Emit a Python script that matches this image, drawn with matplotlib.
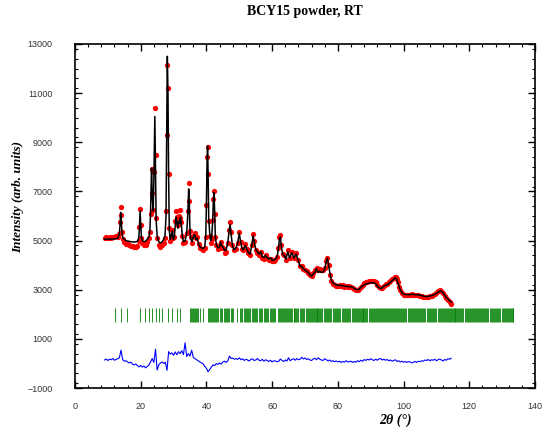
import numpy as np
import matplotlib
matplotlib.use('Agg')
import matplotlib.pyplot as plt
from matplotlib.ticker import MultipleLocator

# observed / calculated profile, shared 2theta nodes
two_theta = [
    9.0, 9.5, 10.0, 10.5, 11.0, 11.5, 12.0, 12.5, 13.0, 13.4,
    13.7, 13.9, 14.1, 14.3, 14.6, 15.0, 15.5, 16.0, 16.5, 17.0,
    17.5, 18.0, 18.5, 19.0, 19.4, 19.6, 19.8, 20.0, 20.2, 20.5,
    21.0, 21.5, 22.0, 22.5, 22.8, 23.0, 23.3, 23.5, 23.8, 24.0,
    24.3, 24.5, 24.7, 25.0, 25.5, 26.0, 26.5, 27.0, 27.4, 27.7,
    27.9, 28.1, 28.3, 28.5, 28.7, 29.0, 29.3, 29.6, 29.9, 30.2,
    30.5, 30.8, 31.0, 31.3, 31.6, 31.9, 32.1, 32.4, 32.7, 33.0,
    33.5, 34.0, 34.3, 34.6, 34.8, 35.0, 35.3, 35.6, 36.0, 36.4,
    36.8, 37.2, 37.6, 38.0, 38.5, 39.0, 39.5, 39.8, 40.0, 40.2,
    40.35, 40.5, 40.7, 41.0, 41.3, 41.6, 41.9, 42.1, 42.3, 42.5,
    42.7, 43.0, 43.5, 44.0, 44.3, 44.6, 45.0, 45.5, 46.0, 46.5,
    46.9, 47.2, 47.5, 47.9, 48.4, 49.0, 49.5, 50.0, 50.4, 50.8,
    51.2, 51.8, 52.3, 52.8, 53.3, 53.8, 54.2, 54.5, 55.0, 55.5,
    56.0, 56.5, 57.0, 57.5, 58.0, 58.5, 59.0, 59.5, 60.0, 60.5,
    61.0, 61.5, 61.9, 62.2, 62.5, 62.8, 63.2, 63.6, 64.2, 64.8,
    65.3, 66.0, 66.6, 67.3, 67.9, 68.5, 69.0, 69.5, 70.0, 70.5,
    71.0, 71.5, 72.0, 72.5, 73.0, 73.5, 74.0, 74.5, 75.0, 75.5,
    76.0, 76.4, 76.8, 77.2, 77.6, 78.0, 78.5, 79.0, 79.5, 80.0,
    80.5, 81.0, 81.5, 82.0, 82.5, 83.0, 83.5, 84.0, 84.5, 85.0,
    85.5, 86.0, 86.5, 87.0, 87.5, 88.0, 88.5, 89.0, 89.5, 90.0,
    90.5, 91.0, 91.5, 92.0, 92.5, 93.0, 93.5, 94.0, 94.5, 95.0,
    95.5, 96.0, 96.5, 97.0, 97.3, 97.6, 97.9, 98.2, 98.6, 99.0,
    99.5, 100.0, 100.5, 101.0, 101.5, 102.0, 102.5, 103.0, 103.5, 104.0,
    104.5, 105.0, 105.5, 106.0, 106.5, 107.0, 107.5, 108.0, 108.5, 109.0,
    109.5, 110.0, 110.5, 110.8, 111.2, 111.5, 112.0, 112.5, 113.0, 113.5,
    114.0, 114.5,
]

y_calc = [
    5050, 5050, 5060, 5060, 5060, 5060, 5070, 5080, 5100, 5200,
    5600, 6150, 5800, 5300, 5100, 5050, 5000, 4980, 4970, 4950,
    4950, 4940, 4950, 4970, 5100, 5500, 6200, 5700, 5150, 5000,
    4950, 4980, 5050, 5150, 5400, 6200, 7950, 6800, 6200, 7500,
    10050, 8000, 5800, 5200, 4950, 4900, 4950, 5050, 5200, 6000,
    9000, 12500, 11000, 7500, 5400, 5050, 5200, 5400, 5050, 5100,
    5600, 5950, 5750, 5500, 5800, 5700, 5950, 5600, 5150, 4950,
    4980, 5300, 6000, 7100, 6500, 5300, 5050, 4950, 5150, 5250,
    5050, 5100, 4850, 4750, 4700, 4680, 4750, 5200, 6500, 8300,
    8850, 7800, 5900, 5300, 5000, 5100, 5800, 6600, 6950, 6200,
    5200, 4850, 4700, 4750, 4950, 4800, 4750, 4600, 4620, 4900,
    5400, 5650, 5300, 4800, 4620, 4700, 4900, 5300, 4950, 4700,
    4620, 4800, 4650, 4500, 4450, 4800, 5200, 5000, 4650, 4550,
    4450, 4550, 4350, 4300, 4400, 4300, 4250, 4300, 4200, 4200,
    4250, 4350, 4650, 5050, 5150, 4750, 4450, 4400, 4250, 4550,
    4300, 4500, 4300, 4450, 4200, 3950, 3950, 3850, 3800, 3750,
    3700, 3600, 3550, 3650, 3700, 3850, 3700, 3750, 3700, 3720,
    3850, 4100, 4280, 4000, 3650, 3400, 3280, 3230, 3200, 3180,
    3180, 3170, 3160, 3150, 3140, 3130, 3130, 3120, 3100, 3050,
    3020, 3000, 3020, 3100, 3150, 3200, 3230, 3250, 3270, 3280,
    3290, 3280, 3250, 3150, 3080, 3050, 3080, 3150, 3180, 3200,
    3250, 3300, 3370, 3420, 3460, 3480, 3420, 3300, 3150, 3000,
    2880, 2820, 2810, 2800, 2800, 2800, 2810, 2810, 2800, 2800,
    2790, 2780, 2760, 2740, 2730, 2720, 2730, 2740, 2760, 2780,
    2810, 2850, 2900, 2920, 2950, 2950, 2880, 2780, 2680, 2620,
    2550, 2500,
]

y_obs = [
    5100, 5130, 5110, 5140, 5120, 5160, 5140, 5170, 5150, 5260,
    5750, 6350, 6050, 5350, 5050, 4950, 4880, 4850, 4800, 4780,
    4760, 4740, 4720, 4760, 5000, 5550, 6300, 5650, 5100, 4900,
    4800, 4840, 4950, 5100, 5350, 6100, 7900, 6950, 6250, 7800,
    10400, 8500, 5900, 5100, 4800, 4750, 4800, 4900, 5100, 6200,
    9300, 12150, 11200, 7700, 5500, 5000, 5200, 5450, 5100, 5150,
    5800, 6200, 5950, 5650, 6000, 5900, 6250, 5750, 5200, 4900,
    4950, 5300, 6200, 7350, 6600, 5400, 5150, 4900, 5200, 5300,
    5100, 5150, 4850, 4700, 4650, 4620, 4700, 5150, 6450, 8400,
    8800, 7700, 5800, 5200, 4900, 5050, 5850, 6700, 7000, 6100,
    5150, 4800, 4650, 4700, 4950, 4750, 4700, 4500, 4550, 4900,
    5450, 5770, 5350, 4800, 4600, 4650, 4900, 5350, 4950, 4650,
    4600, 4850, 4650, 4500, 4400, 4800, 5250, 5000, 4600, 4500,
    4400, 4550, 4300, 4250, 4400, 4300, 4200, 4250, 4150, 4150,
    4200, 4350, 4700, 5150, 5230, 4800, 4450, 4400, 4200, 4600,
    4300, 4550, 4300, 4500, 4200, 3950, 3950, 3850, 3800, 3750,
    3700, 3600, 3550, 3700, 3800, 3900, 3800, 3850, 3800, 3800,
    3900, 4150, 4300, 4000, 3600, 3350, 3220, 3180, 3150, 3150,
    3200, 3150, 3180, 3130, 3150, 3110, 3140, 3100, 3080, 3030,
    3000, 2990, 3030, 3130, 3200, 3260, 3300, 3320, 3340, 3350,
    3350, 3340, 3300, 3200, 3100, 3060, 3090, 3170, 3220, 3230,
    3300, 3350, 3420, 3470, 3500, 3520, 3450, 3300, 3120, 2980,
    2850, 2800, 2800, 2780, 2790, 2790, 2810, 2800, 2790, 2800,
    2780, 2760, 2740, 2720, 2710, 2700, 2720, 2730, 2760, 2790,
    2830, 2880, 2940, 2960, 2980, 2960, 2870, 2760, 2650, 2580,
    2500, 2400,
]

# difference curve (obs - calc, shifted), 0.5 deg steps from 9.0
diff_start, diff_step = 9.0, 0.5
y_diff = [
    140, 180, 120, 170, 150, 200, 130, 160, 190, 230,
    540, 160, 90, 110, 60, 20, 50, -30, -60, -20,
    -90, -140, -80, -150, -110, -180, -120, -60, 60, 200,
    40, 580, -270, -60, 20, 60, 0, 50, -280, 480,
    380, 430, 330, 470, 350, 480, 400, 520, 360, 840,
    280, 400, 300, 540, 240, 200, 150, 110, 60, 20,
    -20, -120, -200, -340, -250, -150, -60, -90, -10, -40,
    20, -30, 60, 90, 40, 100, 300, 200, 220, 170,
    200, 160, 230, 150, 190, 120, 170, 140, 100, 160,
    190, 120, 140, 200, 130, 110, 170, 90, 150, 120,
    80, 130, 60, 110, 100, 70, 90, 180, 120, 80,
    140, 100, 230, 110, 160, 190, 130, 200, 150, 170,
    250, 180, 220, 160, 190, 140, 120, 180, 210, 150,
    230, 170, 140, 120, 190, 150, 100, 140, 80, 110,
    70, 100, 60, 90, 40, 80, 50, 110, 60, 70,
    90, 40, 80, 50, 110, 70, 130, 90, 160, 120,
    170, 140, 190, 150, 120, 170, 130, 180, 200, 140,
    170, 130, 160, 110, 140, 90, 120, 150, 80, 110,
    60, 90, 50, 80, 40, 70, 60, 20, 50, 80,
    40, 90, 70, 110, 90, 140, 120, 160, 110, 150,
    130, 170, 110, 150, 180, 140, 100, 160, 130, 190,
    170, 210,
]

# Bragg reflection positions
bragg_pos = [
    12.3, 14.1, 15.8, 19.9, 21.3, 22.5, 23.5, 24.5, 25.6, 26.6, 28.4, 29.4, 30.9, 32.0,
    35.0, 35.3, 35.6, 35.9, 36.2, 36.5, 36.8, 37.1, 37.4, 38.1, 38.9,
    40.4, 40.7, 41.0, 41.3, 41.6, 41.9, 42.2, 42.6, 43.0, 43.3, 43.6, 44.0, 44.4, 44.7,
    45.2, 45.5, 45.9, 46.3, 46.6, 47.0, 47.4, 47.8, 48.2, 49.3,
    50.3, 50.6, 50.9, 51.3, 51.6, 52.0, 52.3, 52.7, 53.0, 53.4, 53.8, 54.1, 54.5, 54.8,
    55.2, 55.5, 55.9, 56.2, 56.6, 57.0, 57.5, 57.8, 58.1, 58.5, 58.8, 59.2, 59.6, 60.0,
    60.3, 60.7, 61.0, 61.7, 62.0, 62.3, 62.6, 62.9, 63.2, 63.5, 63.8, 64.1, 64.4, 64.7, 65.0,
    65.4, 65.7, 66.0, 66.5, 66.8, 67.1, 67.4, 67.7, 68.0, 68.6, 68.9, 69.2, 69.5, 69.8,
    70.2, 70.5, 70.8, 71.1, 71.4, 71.7, 72.0, 72.3, 72.6, 72.9, 73.2, 73.5, 73.8, 74.1, 74.4, 74.7,
    75.0, 75.3, 75.9, 76.2, 76.5, 76.8, 77.1, 77.4, 77.7, 78.0, 78.5, 78.8, 79.1, 79.4, 79.7,
    80.0, 80.3, 80.6, 81.2, 81.5, 81.8, 82.1, 82.4, 82.7, 83.0, 83.3, 83.6, 84.2, 84.5, 84.8,
    85.1, 85.4, 85.7, 86.0, 86.3, 86.6, 86.9, 87.2, 87.5, 87.8, 88.1, 88.4, 88.7, 89.0, 89.6, 89.9,
    90.2, 90.5, 90.8, 91.1, 91.4, 91.7, 92.0, 92.3, 92.6, 92.9, 93.2, 93.5, 93.8, 94.1, 94.4, 94.7,
    95.0, 95.3, 95.6, 95.9, 96.2, 96.5, 96.8, 97.1, 97.4, 97.7, 98.0, 98.3, 98.6, 98.9, 99.2, 99.5, 99.8,
    100.2, 100.5, 100.8, 101.4, 101.7, 102.0, 102.3, 102.6, 102.9, 103.2, 103.5, 103.8, 104.1, 104.4, 104.7,
    105.0, 105.3, 105.6, 105.9, 106.2, 106.5, 107.1, 107.4, 107.7, 108.0, 108.3, 108.6, 108.9, 109.2, 109.5, 109.8,
    110.4, 110.7, 111.0, 111.3, 111.6, 111.9, 112.2, 112.5, 112.8, 113.1, 113.4, 113.7, 114.0, 114.3, 114.6,
    114.9, 115.2, 115.5, 115.8, 116.1, 116.4, 116.7, 117.0, 117.3, 117.6, 117.9, 118.2, 118.8, 119.1, 119.4, 119.7,
    120.0, 120.3, 120.6, 120.9, 121.2, 121.5, 121.8, 122.1, 122.4, 122.7, 123.0, 123.3, 123.6, 123.9, 124.2, 124.5, 124.8,
    125.1, 125.4, 125.7, 126.3, 126.6, 126.9, 127.2, 127.5, 127.8, 128.1, 128.4, 128.7, 129.0, 129.3, 129.9,
    130.2, 130.5, 130.8, 131.1, 131.4, 131.7, 132.0, 132.3, 132.6, 132.9, 133.2, 133.4,
]
bragg_lo, bragg_hi = 1700, 2250

diff_x = diff_start + diff_step * np.arange(len(y_diff))

fig = plt.figure(figsize=(5.45, 4.30), dpi=100)
ax = fig.add_axes([75 / 545, 1 - 388 / 430, 460 / 545, 344 / 430])

ax.plot(two_theta, y_obs, 'o', color='red', ms=3.8, mew=0, zorder=2)
ax.plot(two_theta, y_calc, '-', color='black', lw=1.1, zorder=3)
ax.vlines(bragg_pos, bragg_lo, bragg_hi, color='green', lw=0.6)
ax.plot(diff_x, y_diff, '-', color='blue', lw=0.8)

ax.set_xlim(0, 140)
ax.set_ylim(-1000, 13000)
ax.xaxis.set_major_locator(MultipleLocator(20))
ax.xaxis.set_minor_locator(MultipleLocator(4))
ax.set_yticks(np.arange(-1000, 13001, 2000))
ax.yaxis.set_minor_locator(MultipleLocator(400))

ax.tick_params(which='both', direction='in', top=True, right=True,
               labelsize=6.5, labelcolor='#333333', labelfontfamily='Liberation Sans')
ax.tick_params(which='major', length=5, width=1)
ax.tick_params(which='minor', length=2.5, width=0.8)
ax.tick_params(axis='y', pad=16)
ax.tick_params(axis='x', pad=10)
for s in ax.spines.values():
    s.set_linewidth(1.2)

fig.text(305 / 545, 1 - 12 / 430, 'BCY15 powder, RT', ha='center', va='center',
         fontsize=10, fontweight='bold', family='Liberation Serif')
fig.text(18 / 545, 1 - 197 / 430, 'Intensity (arb. units)', ha='center', va='center',
         rotation=90, fontsize=9.5, fontweight='bold', style='italic', family='Liberation Serif')
fig.text(395 / 545, 1 - 420 / 430, '2\u03b8 (\u00b0)', ha='center', va='center',
         fontsize=10, fontweight='bold', style='italic', family='Liberation Serif')

fig.savefig('out.png', dpi=100)
